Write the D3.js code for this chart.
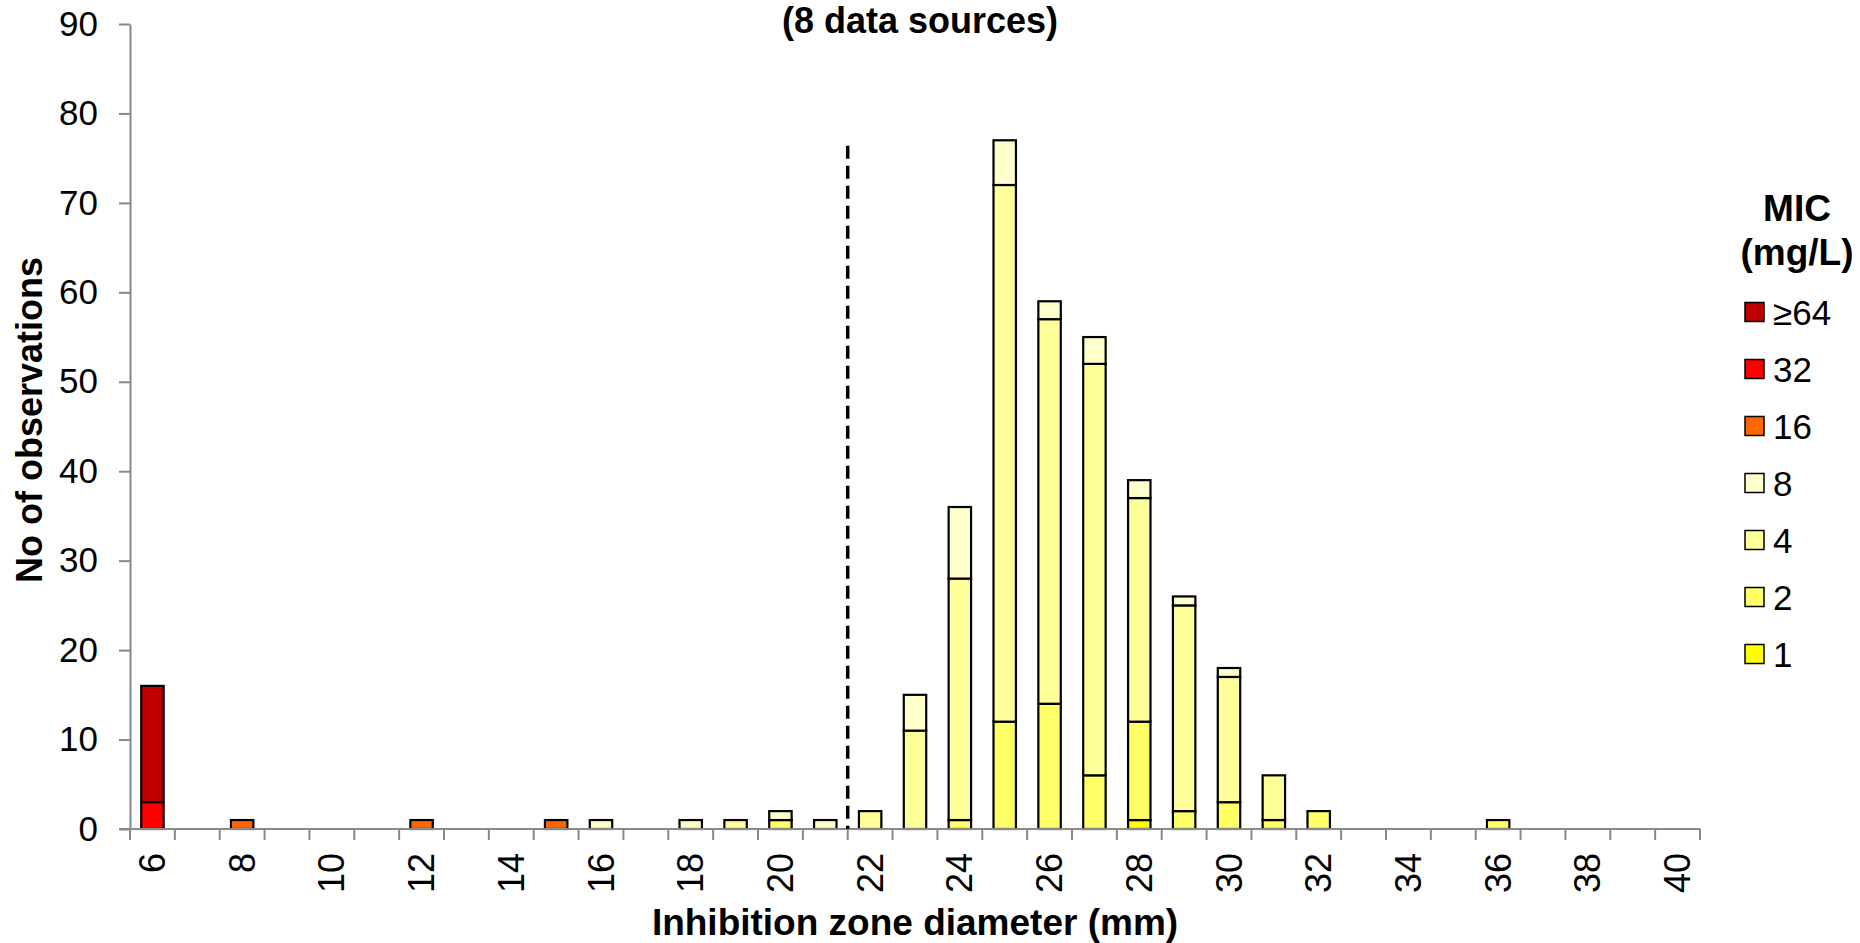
<!DOCTYPE html>
<html>
<head>
<meta charset="utf-8">
<script src="https://cdn.jsdelivr.net/npm/d3@7"></script>
<style>
  html, body { margin: 0; padding: 0; background: #fff; }
  svg { display: block; font-family: "Liberation Sans", Arial, sans-serif; }
</style>
</head>
<body>
<svg id="chart" width="1860" height="943"></svg>
<script>
// ---- data ----
const categories = [6,7,8,9,10,11,12,13,14,15,16,17,18,19,20,21,22,23,24,25,26,27,28,29,30,31,32,33,34,35,36,37,38,39,40];
const tickLabels = ["6","8","10","12","14","16","18","20","22","24","26","28","30","32","34","36","38","40"];
const yTicks = [0,10,20,30,40,50,60,70,80,90];
const seriesKeys = ["1","2","4","8","16","32","≥64"];           // stacking order, bottom to top
const legendOrder = ["≥64","32","16","8","4","2","1"];
const seriesColors = ["#FFFF00","#FFFF66","#FFFF99","#FFFFCC","#FF6600","#FF0000","#C00000"];
//                 6 7 8 9 10 11 12 13 14 15 16 17 18 19 20 21 22 23 24 25 26 27 28 29 30 31 32 33 34 35 36 37 38 39 40
const mic1   = [0,0,0,0, 0, 0, 0, 0, 0, 0, 0, 0, 0, 0, 0, 0, 0, 0, 0, 0, 0, 0, 1, 0, 0, 0, 0, 0, 0, 0, 0, 0, 0, 0, 0];
const mic2   = [0,0,0,0, 0, 0, 0, 0, 0, 0, 0, 0, 0, 0, 1, 0, 0, 0, 1,12,14, 6,11, 2, 3, 1, 2, 0, 0, 0, 1, 0, 0, 0, 0];
const mic4   = [0,0,0,0, 0, 0, 0, 0, 0, 0, 0, 0, 0, 1, 0, 0, 2,11,27,60,43,46,25,23,14, 5, 0, 0, 0, 0, 0, 0, 0, 0, 0];
const mic8   = [0,0,0,0, 0, 0, 0, 0, 0, 0, 1, 0, 1, 0, 1, 1, 0, 4, 8, 5, 2, 3, 2, 1, 1, 0, 0, 0, 0, 0, 0, 0, 0, 0, 0];
const mic16  = [0,0,1,0, 0, 0, 1, 0, 0, 1, 0, 0, 0, 0, 0, 0, 0, 0, 0, 0, 0, 0, 0, 0, 0, 0, 0, 0, 0, 0, 0, 0, 0, 0, 0];
const mic32  = [3,0,0,0, 0, 0, 0, 0, 0, 0, 0, 0, 0, 0, 0, 0, 0, 0, 0, 0, 0, 0, 0, 0, 0, 0, 0, 0, 0, 0, 0, 0, 0, 0, 0];
const mic64  = [13,0,0,0,0, 0, 0, 0, 0, 0, 0, 0, 0, 0, 0, 0, 0, 0, 0, 0, 0, 0, 0, 0, 0, 0, 0, 0, 0, 0, 0, 0, 0, 0, 0];
const breakpointBoundary = 21;   // dashed line after category 21
const breakpointTop = 76.4;      // top of dashed line (in count units)

const titleText = "(8 data sources)";
const xTitle = "Inhibition zone diameter (mm)";
const yTitle = "No of observations";
const legendTitle = ["MIC", "(mg/L)"];

// ---- build table ----
const seriesArrays = [mic1, mic2, mic4, mic8, mic16, mic32, mic64];
const table = categories.map((c, i) => {
  const row = { cat: c };
  seriesKeys.forEach((k, j) => row[k] = seriesArrays[j][i]);
  return row;
});
const color = d3.scaleOrdinal().domain(seriesKeys).range(seriesColors);

// ---- layout ----
const svg = d3.select("#chart");
const plot = { left: 130, right: 1700, top: 24, bottom: 829 };

const x = d3.scaleBand().domain(categories).range([plot.left, plot.right])
  .paddingInner(0.5).paddingOuter(0.25);
const y = d3.scaleLinear().domain([0, 90]).range([plot.bottom, plot.top]);

const stack = d3.stack().keys(seriesKeys);
const stacked = stack(table);

// bars
const gBars = svg.append("g");
stacked.forEach(layer => {
  gBars.append("g")
    .attr("fill", color(layer.key))
    .selectAll("rect")
    .data(layer.filter(d => d[1] - d[0] > 0))
    .join("rect")
    .attr("x", d => x(d.data.cat))
    .attr("width", x.bandwidth())
    .attr("y", d => y(d[1]))
    .attr("height", d => y(d[0]) - y(d[1]))
    .attr("stroke", "#000")
    .attr("stroke-width", 2.2);
});

// y axis
const yAxis = svg.append("g")
  .attr("transform", `translate(${plot.left},0)`)
  .call(d3.axisLeft(y).tickValues(yTicks).tickSize(11).tickPadding(21).tickSizeOuter(0));
yAxis.select(".domain").attr("stroke", "#898989").attr("stroke-width", 2);
yAxis.selectAll(".tick line").attr("stroke", "#898989").attr("stroke-width", 2);
yAxis.selectAll(".tick text").attr("font-size", 35).attr("fill", "#000")
  .attr("font-family", "'Liberation Sans', Arial, sans-serif");

// x axis line + boundary ticks
const step = x.step();
const boundaries = categories.map(c => x(c) - x.paddingInner() * step / 2);
boundaries.push(x(categories[categories.length - 1]) + x.bandwidth() + x.paddingInner() * step / 2);
const gx = svg.append("g");
gx.append("line")
  .attr("x1", plot.left - 11).attr("x2", boundaries[boundaries.length - 1])
  .attr("y1", y(0)).attr("y2", y(0))
  .attr("stroke", "#898989").attr("stroke-width", 2);
gx.selectAll("line.tk").data(boundaries).join("line").attr("class", "tk")
  .attr("x1", d => d).attr("x2", d => d)
  .attr("y1", y(0)).attr("y2", y(0) + 11)
  .attr("stroke", "#898989").attr("stroke-width", 2);

// x tick labels (rotated)
gx.selectAll("text.xl").data(tickLabels).join("text").attr("class", "xl")
  .attr("transform", d => `translate(${x(+d) + x.bandwidth() / 2},${y(0) + 24}) rotate(-90)`)
  .attr("text-anchor", "end")
  .attr("dy", "0.35em")
  .attr("font-size", 36)
  .text(d => d);

// dashed breakpoint line
const bx = x(breakpointBoundary) + x.bandwidth() + x.paddingInner() * step / 2;
svg.append("line")
  .attr("x1", bx).attr("x2", bx)
  .attr("y1", y(breakpointTop)).attr("y2", y(0))
  .attr("stroke", "#000").attr("stroke-width", 3.5)
  .attr("stroke-dasharray", "13,7");

// titles
svg.append("text").attr("x", 920).attr("y", 33)
  .attr("text-anchor", "middle").attr("font-weight", "bold").attr("font-size", 36)
  .text(titleText);
svg.append("text").attr("x", (plot.left + plot.right) / 2).attr("y", 935)
  .attr("text-anchor", "middle").attr("font-weight", "bold").attr("font-size", 37)
  .text(xTitle);
svg.append("text").attr("transform", `translate(42,420) rotate(-90)`)
  .attr("text-anchor", "middle").attr("font-weight", "bold").attr("font-size", 36)
  .text(yTitle);

// legend
const gl = svg.append("g");
gl.selectAll("text.lt").data(legendTitle).join("text").attr("class", "lt")
  .attr("x", 1797).attr("y", (d, i) => 221 + i * 44)
  .attr("text-anchor", "middle").attr("font-weight", "bold").attr("font-size", 37)
  .text(d => d);
const legendY = d3.scalePoint().domain(legendOrder).range([312, 654]);
const items = gl.selectAll("g.li").data(legendOrder).join("g").attr("class", "li")
  .attr("transform", d => `translate(1745,${legendY(d)})`);
items.append("rect")
  .attr("x", 0).attr("y", -9.5).attr("width", 19).attr("height", 19)
  .attr("fill", d => color(d)).attr("stroke", "#000").attr("stroke-width", 1.5);
items.append("text")
  .attr("x", 28).attr("dy", "0.36em").attr("font-size", 35)
  .text(d => d);
</script>
</body>
</html>
